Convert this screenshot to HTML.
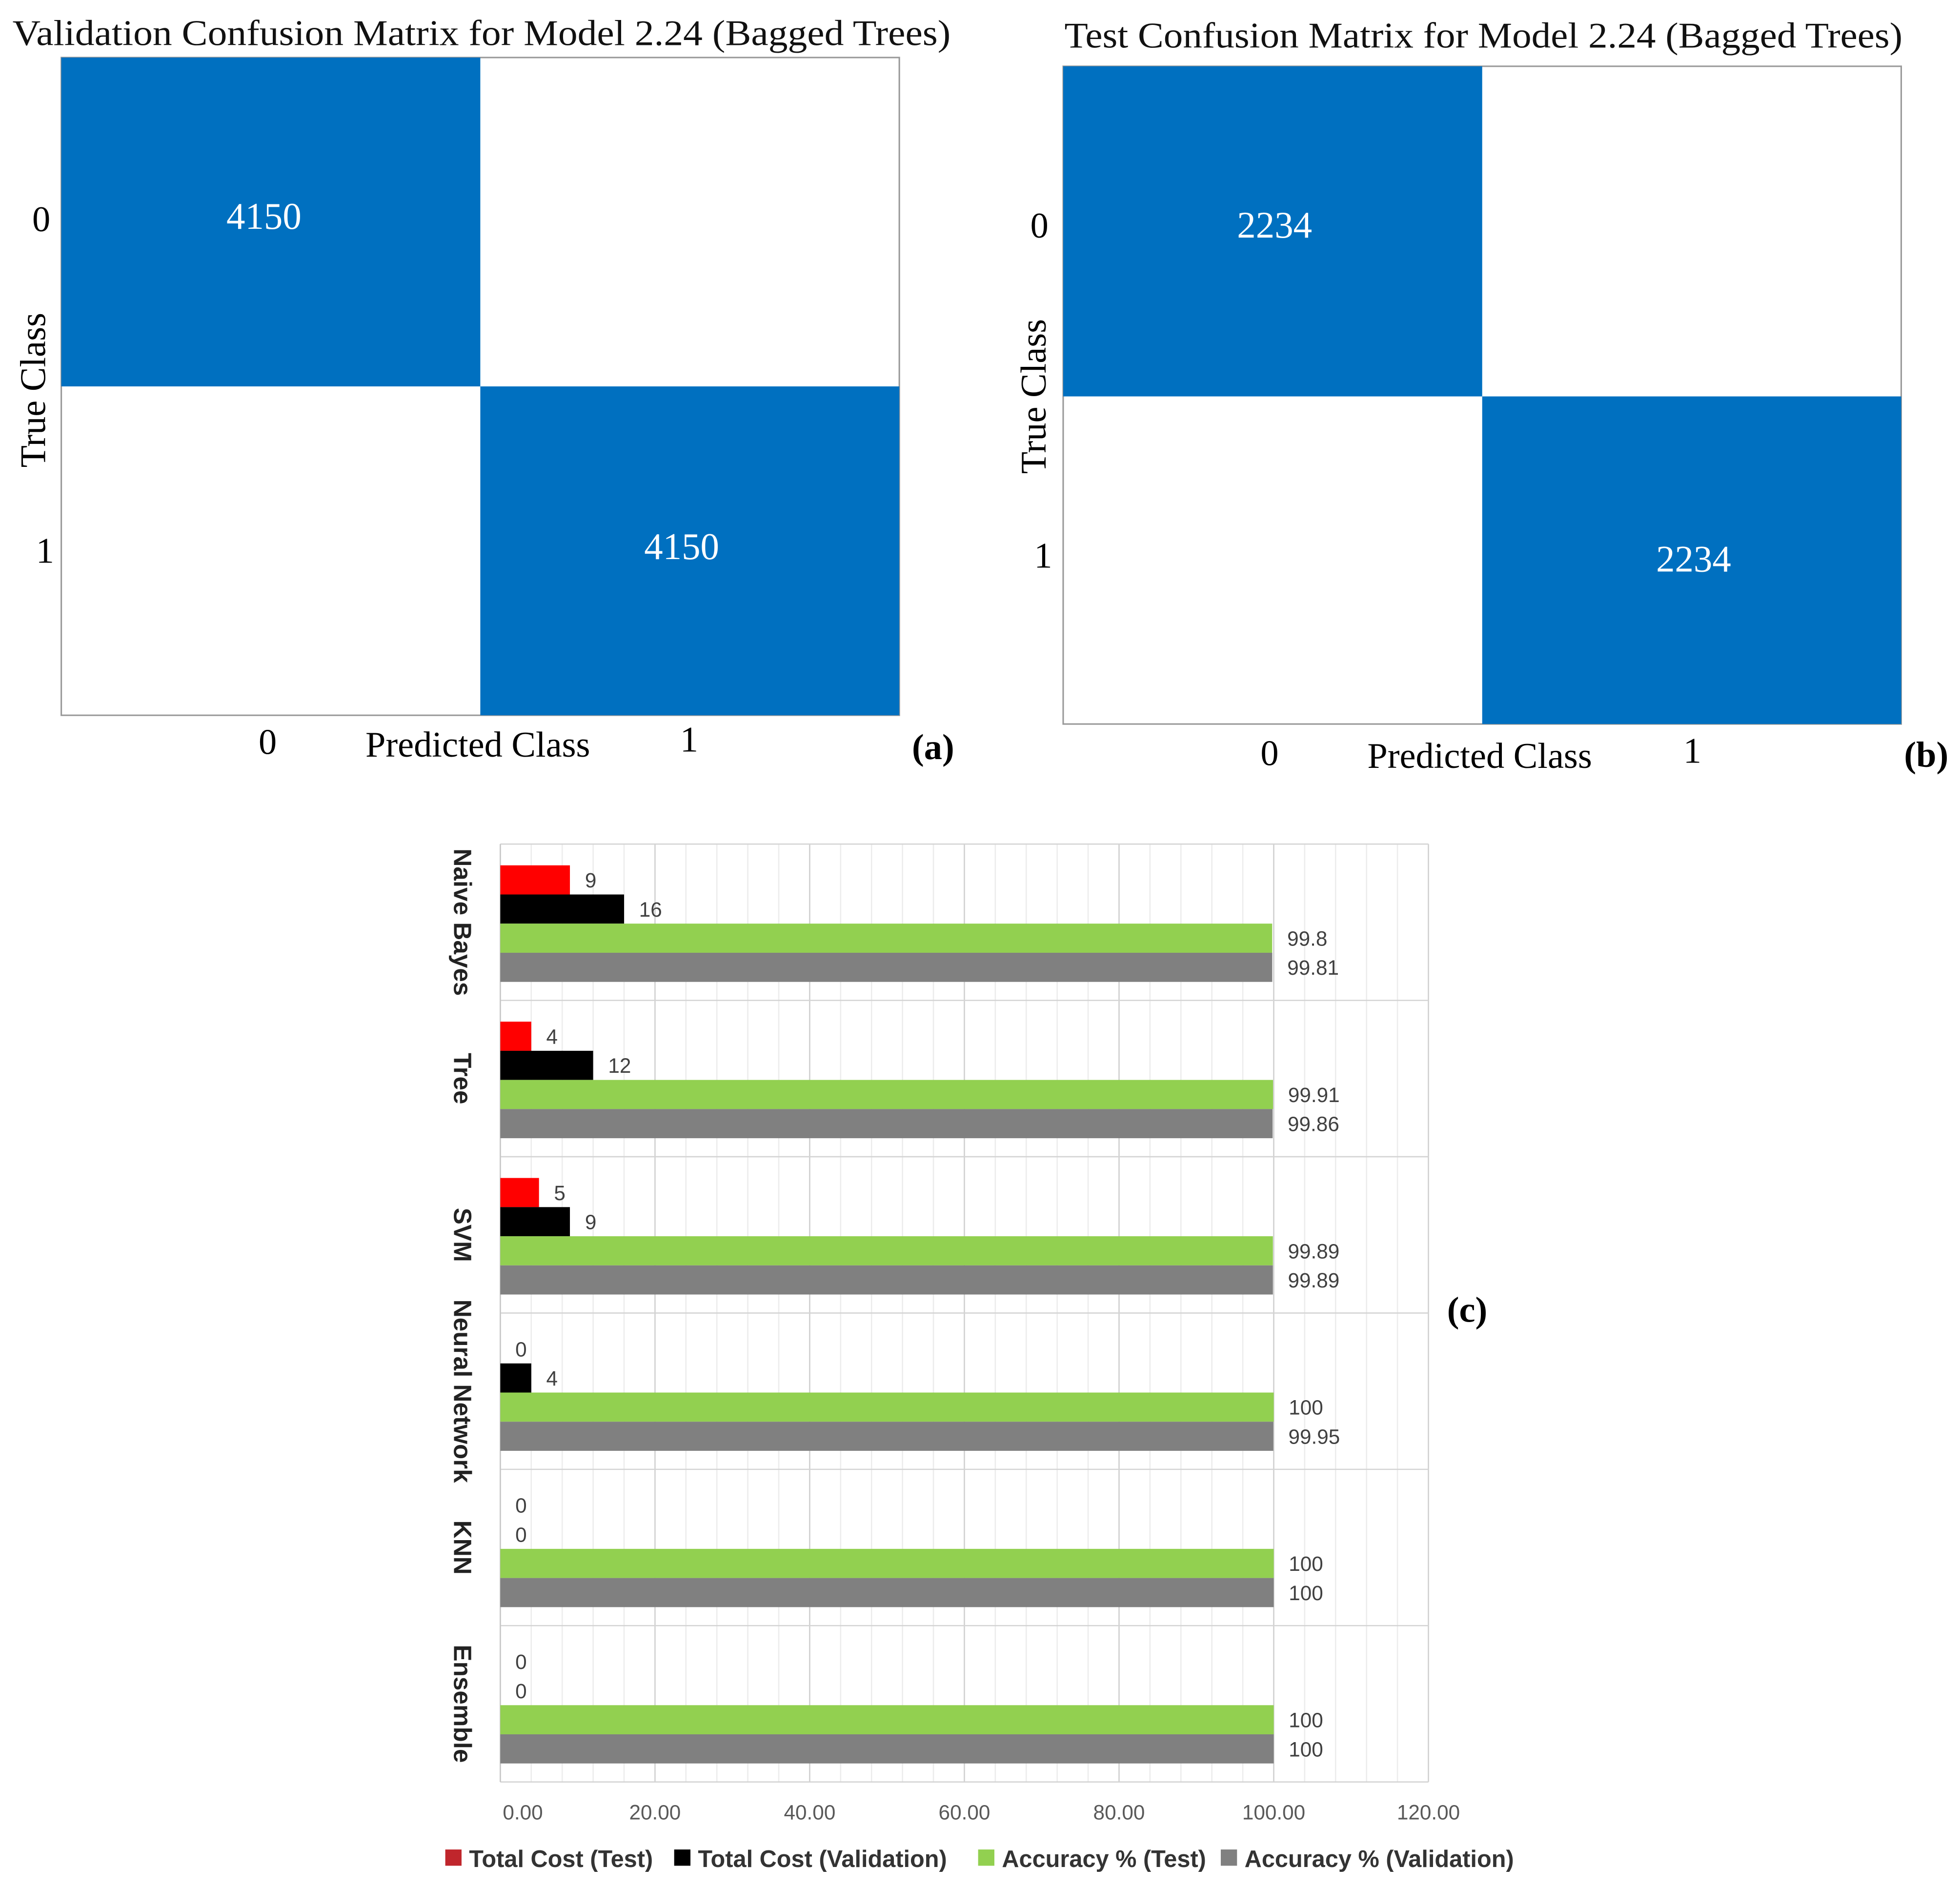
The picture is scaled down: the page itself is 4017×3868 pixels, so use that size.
<!DOCTYPE html>
<html><head><meta charset="utf-8">
<style>
html,body{margin:0;padding:0;background:#fff;}
svg{display:block;}
.serif{font-family:"Liberation Serif",serif;}
.sans{font-family:"Liberation Sans",sans-serif;}
</style></head>
<body>
<svg id="root" width="4017" height="3868" viewBox="0 0 1567 1509" preserveAspectRatio="none" xmlns="http://www.w3.org/2000/svg">
<rect width="1567" height="1509" fill="#fff"/>
<!-- Panel a -->
<g class="serif">
  <text x="10" y="36" font-size="29" textLength="750" lengthAdjust="spacingAndGlyphs" fill="#111">Validation Confusion Matrix for Model 2.24 (Bagged Trees)</text>
  <rect x="49" y="46" width="670" height="526" fill="#fff" stroke="#999" stroke-width="1.2"/>
  <rect x="49" y="46" width="335" height="263" fill="#0070C0"/>
  <rect x="384" y="309" width="335" height="263" fill="#0070C0"/>
  <text x="211" y="183" font-size="30" fill="#fff" text-anchor="middle">4150</text>
  <text x="545" y="447" font-size="30" fill="#fff" text-anchor="middle">4150</text>
  <text x="33" y="185" font-size="29" text-anchor="middle">0</text>
  <text x="36" y="450" font-size="29" text-anchor="middle">1</text>
  <text transform="translate(36,312) rotate(-90)" font-size="29" text-anchor="middle">True Class</text>
  <text x="214" y="603" font-size="29" text-anchor="middle">0</text>
  <text x="382" y="605" font-size="29" text-anchor="middle">Predicted Class</text>
  <text x="551" y="601" font-size="29" text-anchor="middle">1</text>
  <text x="746" y="607" font-size="29" font-weight="bold" text-anchor="middle">(a)</text>
</g>
<!-- Panel b -->
<g class="serif">
  <text x="851" y="38" font-size="29" textLength="670" lengthAdjust="spacingAndGlyphs" fill="#111">Test Confusion Matrix for Model 2.24 (Bagged Trees)</text>
  <rect x="850" y="53" width="670" height="526" fill="#fff" stroke="#999" stroke-width="1.2"/>
  <rect x="850" y="53" width="335" height="264" fill="#0070C0"/>
  <rect x="1185" y="317" width="335" height="262" fill="#0070C0"/>
  <text x="1019" y="190" font-size="30" fill="#fff" text-anchor="middle">2234</text>
  <text x="1354" y="457" font-size="30" fill="#fff" text-anchor="middle">2234</text>
  <text x="831" y="190" font-size="29" text-anchor="middle">0</text>
  <text x="834" y="454" font-size="29" text-anchor="middle">1</text>
  <text transform="translate(836,317) rotate(-90)" font-size="29" text-anchor="middle">True Class</text>
  <text x="1015" y="612" font-size="29" text-anchor="middle">0</text>
  <text x="1183" y="614" font-size="29" text-anchor="middle">Predicted Class</text>
  <text x="1353" y="610" font-size="29" text-anchor="middle">1</text>
  <text x="1540" y="613" font-size="29" font-weight="bold" text-anchor="middle">(b)</text>
</g>
<!-- Panel c -->
<g id="chartc"></g>
<text class="serif" x="1173" y="1057" font-size="29" font-weight="bold" text-anchor="middle">(c)</text>
</svg>
<script>
const categories = ["Naive Bayes","Tree","SVM","Neural Network","KNN","Ensemble"];
const costTest = [9,4,5,0,0,0];
const costVal = [16,12,9,4,0,0];
const accTest = [99.8,99.91,99.89,100,100,100];
const accVal = [99.81,99.86,99.89,99.95,100,100];
const accTestLabels = ["99.8","99.91","99.89","100","100","100"];
const accValLabels = ["99.81","99.86","99.89","99.95","100","100"];
const xTicks = [0,20,40,60,80,100,120];
const xTickLabels = ["0.00","20.00","40.00","60.00","80.00","100.00","120.00"];
const seriesNames = ["Total Cost (Test)","Total Cost (Validation)","Accuracy % (Test)","Accuracy % (Validation)"];

const NS="http://www.w3.org/2000/svg";
const g=document.getElementById('chartc');
const L=400,R=1142,T=675,B=1425,XMAX=120;
const xs=v=>L+v/XMAX*(R-L);
const bandH=(B-T)/categories.length;
const ys=i=>T+i*bandH;
function mk(tag,attrs,parent){const e=document.createElementNS(NS,tag);for(const k in attrs)e.setAttribute(k,attrs[k]);(parent||g).appendChild(e);return e;}

for(let v=0;v<=XMAX;v+=4){
  const ln=mk('line',{x1:xs(v),x2:xs(v),y1:T,y2:B,stroke:v%20===0?'#cfcfcf':'#ececec','stroke-width':1});
  
  
}
for(let i=0;i<=categories.length;i++){
  const ln=mk('line',{x1:L,x2:R,y1:ys(i),y2:ys(i),stroke:'#d4d4d4','stroke-width':1});
  
  
}
const ax=mk('line',{x1:L,x2:L,y1:T,y2:B,stroke:'#c8c8c8','stroke-width':1});



const colors=['#FF0000','#000000','#92D050','#808080'];
const series=[costTest,costVal,accTest,accVal];
const labels=[costTest.map(String),costVal.map(String),accTestLabels,accValLabels];
const barH=23.3, off=17;
const keys=['cost-test','cost-val','acc-test','acc-val'];
categories.forEach((c,i)=>{
  series.forEach((s,j)=>{
    const y=ys(i)+off+j*barH;
    const w=xs(s[i])-L;
    if(w>0){
      const r=mk('rect',{x:L,y:y,width:w,height:barH,fill:colors[j]});
      
      
    }
    const t=mk('text',{x:xs(s[i])+12,y:y+barH/2+6,'font-size':16.5,fill:'#404040','font-family':'"Liberation Sans",sans-serif'});
    t.textContent=labels[j][i];
    
    
  });
  const cy=ys(i)+bandH/2;
  const ct=mk('text',{transform:`translate(363,${cy}) rotate(90)`,'font-size':20,'font-weight':'bold','text-anchor':'middle',fill:'#222','font-family':'"Liberation Sans",sans-serif'});
  ct.textContent=c;
  
  
});
xTicks.forEach((v,k)=>{
  const t=mk('text',{x:Math.max(xs(v),418),y:1455,'font-size':16.5,fill:'#595959','text-anchor':'middle','font-family':'"Liberation Sans",sans-serif'});
  t.textContent=xTickLabels[k];
  
  
});
const legX=[356,539,782,976];
seriesNames.forEach((n,j)=>{
  const lg=mk('g',{});
  
  
  mk('rect',{x:legX[j],y:1479,width:13,height:13,fill:j===0?'#C0262C':colors[j]},lg);
  const t=mk('text',{x:legX[j]+19,y:1493,'font-size':19,'font-weight':'bold',fill:'#333','font-family':'"Liberation Sans",sans-serif'},lg);
  t.textContent=n;
});
</script>
</body></html>
